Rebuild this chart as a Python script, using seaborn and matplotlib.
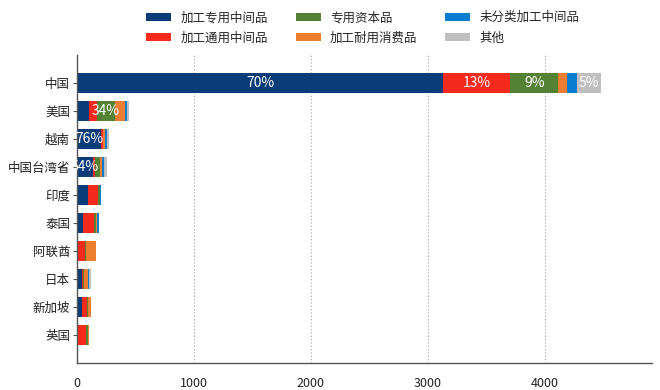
import matplotlib
matplotlib.use("Agg")
import matplotlib.pyplot as plt
import seaborn as sns
import numpy as np
import pandas as pd
from matplotlib.patches import Patch

sns.set_theme(style="white")
plt.rcParams['font.family'] = ['Noto Sans CJK SC', 'DejaVu Sans']

countries = ["中国", "美国", "越南", "中国台湾省", "印度", "泰国", "阿联酋", "日本", "新加坡", "英国"]
series_names = ["加工专用中间品", "加工通用中间品", "专用资本品", "加工耐用消费品", "未分类加工中间品", "其他"]
s_special_inter = [3130, 105, 208, 139, 97, 48, 0, 40, 40, 4]
s_general_inter = [575, 65, 10, 15, 85, 97, 68, 10, 43, 77]
s_capital = [410, 155, 6, 43, 15, 17, 8, 8, 11, 12]
s_durable = [75, 85, 12, 17, 3, 5, 83, 37, 23, 10]
s_unclassified = [85, 20, 22, 20, 4, 20, 0, 6, 0, 0]
s_other = [205, 18, 15, 20, 0, 0, 0, 17, 0, 0]
colors = ["#0b3c78", "#f32a1c", "#548235", "#ed7d31", "#0b7dd0", "#bfbfbf"]

# labelled segments: (country, series index, text)
seg_labels = [("中国", 0, "70%"), ("中国", 1, "13%"), ("中国", 2, "9%"), ("中国", 5, "5%"),
              ("美国", 2, "34%"), ("越南", 0, "76%"), ("中国台湾省", 0, "54%")]

data = np.array([s_special_inter, s_general_inter, s_capital, s_durable, s_unclassified, s_other], dtype=float)
cum = np.cumsum(data, axis=0)

fig = plt.figure(figsize=(6.6, 3.9), dpi=100)
ax = fig.add_axes([77/660, 27/390, (652-77)/660, (363-55)/390])

for i in range(len(series_names) - 1, -1, -1):
    df = pd.DataFrame({"country": countries, "value": cum[i]})
    sns.barplot(data=df, x="value", y="country", order=countries, color=colors[i],
                orient="h", width=0.72, saturation=1, ax=ax, edgecolor="none", linewidth=0)

for c, si, txt in seg_labels:
    r = countries.index(c)
    start = cum[si - 1][r] if si > 0 else 0
    mid = start + data[si][r] / 2
    ax.text(mid, r, txt, ha="center", va="center", color="white", fontsize=10)

ax.set_xlim(0, 4915)
ax.set_ylim(10, -1)
ax.set_xticks([0, 1000, 2000, 3000, 4000])
ax.set_xlabel("")
ax.set_ylabel("")
ax.grid(axis="x", linestyle=(0, (1, 2)), color="#a0a0a0", linewidth=0.8)
ax.set_axisbelow(True)
for s in ["top", "right"]:
    ax.spines[s].set_visible(False)
for s in ["left", "bottom"]:
    ax.spines[s].set_color("#555555")
    ax.spines[s].set_linewidth(1.0)
ax.tick_params(axis="y", left=True, length=3, width=0.8, color="#555555", labelsize=9, pad=2, labelcolor="#222222")
ax.tick_params(axis="x", bottom=False, labelsize=9, pad=4, labelcolor="#222222")

handles = [Patch(facecolor=colors[i], edgecolor="none", label=series_names[i]) for i in range(6)]
fig.legend(handles=handles, loc="upper left", bbox_to_anchor=(135/660, 1.0), ncol=3,
           frameon=False, fontsize=9, handlelength=2.0, handleheight=0.6,
           columnspacing=2.2, handletextpad=0.75, labelspacing=0.6)

fig.savefig("out.png", dpi=100)
